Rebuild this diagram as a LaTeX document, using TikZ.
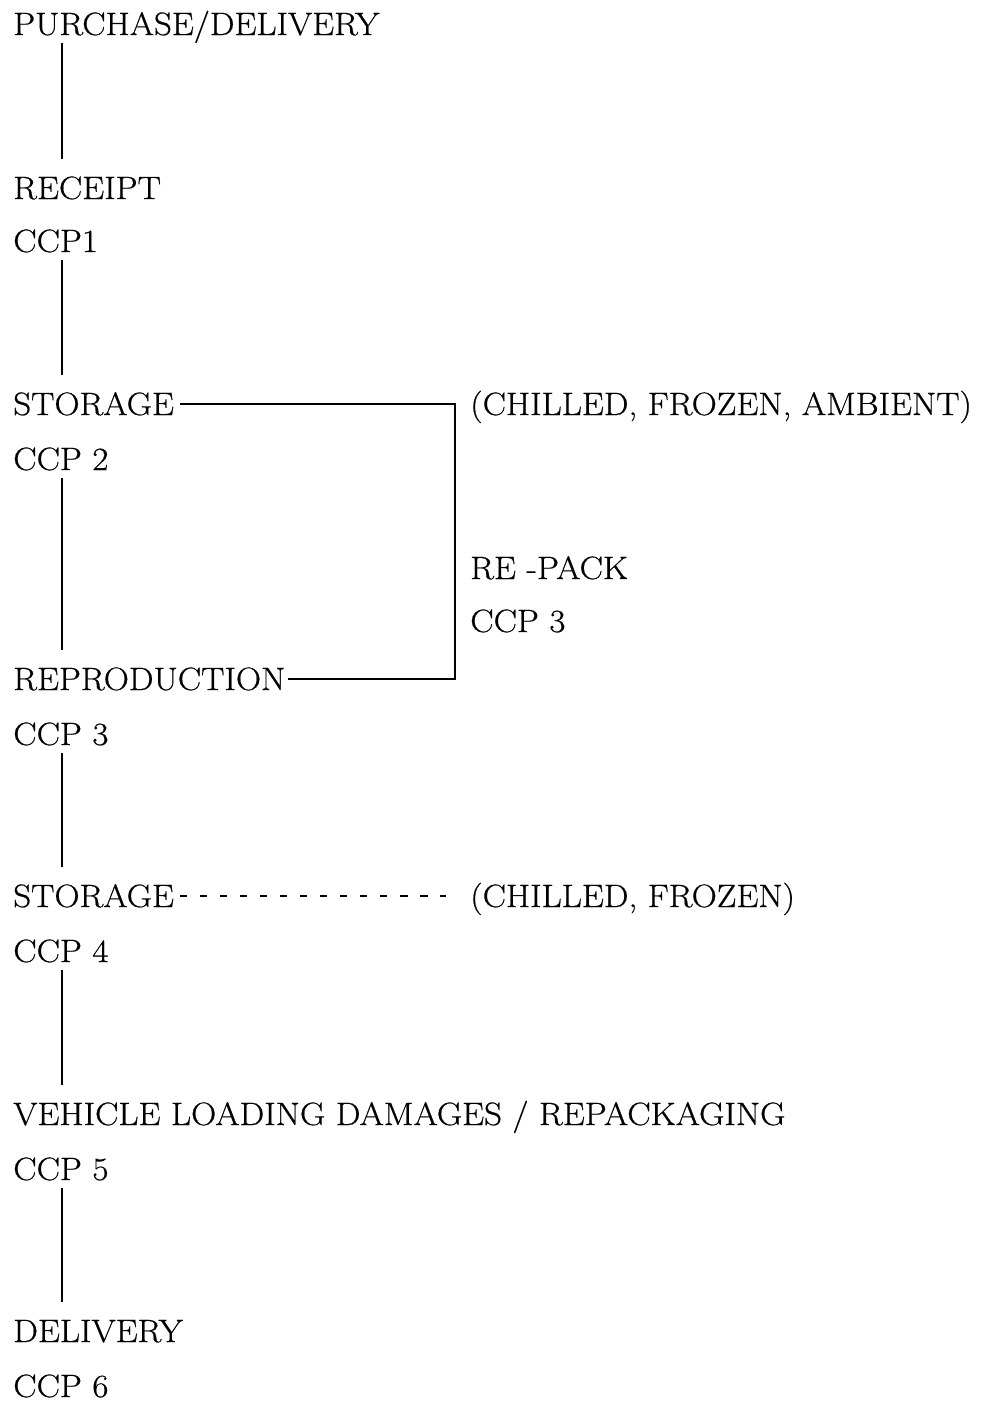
\documentclass[tikz,border=0pt]{standalone}
\usepackage{fontspec}
\usepackage{tikz}
\usetikzlibrary{positioning}
\newfontfamily\flowfont{Latin Modern Roman}[FakeStretch=1.08,FakeBold=0.6]
\begin{document}
\begin{tikzpicture}[x=0.025cm,y=-0.025cm,
  stage/.style={anchor=base west,inner sep=0pt,text height=16pt,text depth=0pt,
                font=\flowfont\fontsize{23}{28}\selectfont},
  link/.style={line width=1.3pt},
  down/.style={link,shorten <=0.2cm,shorten >=0.43cm},
  dotted link/.style={line width=1.1pt,dash pattern=on 0.18cm off 0.32cm}
]
\fill[white] (0,0) rectangle (984,1401);
\useasboundingbox (0,0) rectangle (984,1401);
\coordinate (trunk) at (62,0);
\coordinate (rail) at (455,0);
% main flow
\node[stage] (purch) at (13,35) {PURCHASE/DELIVERY};
\node[stage] (receipt) at (13,199) {RECEIPT};
\node[stage] (ccpa) at (13,252) {CCP1};
\node[stage] (storea) at (13,415) {STORAGE};
\node[stage] (ccpb) at (13,470) {CCP 2};
\node[stage] (repro) at (13,690) {REPRODUCTION};
\node[stage] (ccpc) at (13,745) {CCP 3};
\node[stage] (storeb) at (13,907) {STORAGE};
\node[stage] (ccpd) at (13,962) {CCP 4};
\node[stage] (vehicle) at (13,1125) {VEHICLE LOADING DAMAGES / REPACKAGING};
\node[stage] (ccpe) at (13,1180) {CCP 5};
\node[stage] (deliv) at (13,1342) {DELIVERY};
\node[stage] (ccpf) at (13,1397) {CCP 6};
% side notes
\node[stage] (ambient) at (470,415) {(CHILLED, FROZEN, AMBIENT)};
\node[stage] (repack) at (470,579) {RE -PACK};
\node[stage] (ccprp) at (470,632) {CCP 3};
\node[stage] (chilled) at (470,907) {(CHILLED, FROZEN)};
% connectors
\draw[down] (purch.south -| trunk) -- (receipt.north -| trunk);
\draw[down] (ccpa.south -| trunk) -- (storea.north -| trunk);
\draw[down] (ccpb.south -| trunk) -- (repro.north -| trunk);
\draw[down] (ccpc.south -| trunk) -- (storeb.north -| trunk);
\draw[down] (ccpd.south -| trunk) -- (vehicle.north -| trunk);
\draw[down] (ccpe.south -| trunk) -- (deliv.north -| trunk);
\draw[link,shorten <=0.15cm,shorten >=0.05cm] (storea.east) -- (storea.east -| rail)
  -- (repro.east -| rail) -- (repro.east);
\draw[dotted link,shorten <=0.15cm,shorten >=0.6cm] (storeb.east) -- (chilled.west);
\end{tikzpicture}
\end{document}
